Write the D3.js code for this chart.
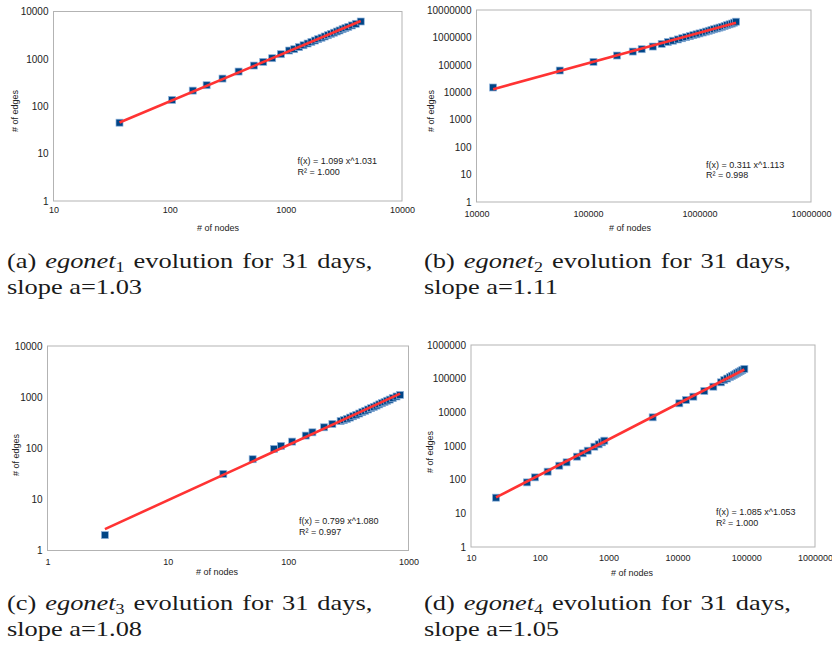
<!DOCTYPE html>
<html>
<head>
<meta charset="utf-8">
<title>egonet evolution</title>
<script src="https://cdn.jsdelivr.net/npm/d3@7"></script>
<style>
body { margin: 0; background: #fff; }
text { font-family: "Liberation Sans", Arial, sans-serif; fill: #222; }
text.cap { font-family: "Liberation Serif", "Times New Roman", serif; fill: #1a1a1a; }
</style>
</head>
<body>
<svg id="fig" width="832" height="648"></svg>
<script>
// (a) egonet 1
var nodes1 = [37, 105, 158, 208, 285, 392, 531, 639, 763, 906, 1069,
              1180, 1300, 1420, 1540, 1660, 1780, 1900, 2030, 2160, 2300,
              2450, 2600, 2750, 2900, 3080, 3260, 3450, 3700, 4000, 4414];
var edges1 = [45, 136, 214, 278, 384, 540, 723, 864, 1033, 1255, 1500,
              1600, 1770, 1940, 2110, 2280, 2440, 2610, 2790, 2970, 3160,
              3370, 3570, 3780, 3980, 4230, 4470, 4740, 5080, 5500, 6150];
var fit1 = [1.099, 1.031], r2_1 = "1.000";
var xTicks1 = [10, 100, 1000, 10000];
var yTicks1 = [1, 10, 100, 1000, 10000];

// (b) egonet 2
var nodes2 = [14100, 55800, 112000, 182000, 252000, 303000, 381000, 458000,
              520000, 580000, 640000, 700000, 760000, 820000, 880000, 940000,
              1000000, 1070000, 1140000, 1210000, 1280000, 1350000, 1430000,
              1510000, 1590000, 1680000, 1770000, 1860000, 1950000, 2040000, 2125000];
var edges2 = [14960, 62200, 128600, 218700, 305600, 372000, 465000, 582000,
              680000, 760000, 845000, 935000, 1025000, 1115000, 1210000, 1300000,
              1400000, 1510000, 1630000, 1750000, 1870000, 1990000, 2130000,
              2280000, 2430000, 2610000, 2800000, 3000000, 3200000, 3450000, 3750000];
var fit2 = [0.311, 1.113], r2_2 = "0.998";
var xTicks2 = [10000, 100000, 1000000, 10000000];
var yTicks2 = [1, 10, 100, 1000, 10000, 100000, 1000000, 10000000];

// (c) egonet 3
var nodes3 = [3, 28.9, 50.7, 76.3, 87.2, 108, 140, 159, 199, 233,
              273, 290, 308, 327, 347, 368, 390, 413, 437, 462, 488,
              515, 543, 572, 602, 633, 665, 698, 740, 795, 852];
var edges3 = [2, 31.5, 61, 97, 111, 135, 177, 205, 257, 299,
              340, 355, 375, 398, 423, 450, 478, 508, 540, 573, 608,
              644, 682, 722, 763, 805, 850, 895, 955, 1030, 1105];
var fit3 = [0.799, 1.080], r2_3 = "0.997";
var xTicks3 = [1, 10, 100, 1000];
var yTicks3 = [1, 10, 100, 1000, 10000];

// (d) egonet 4
var nodes4 = [23.1, 65, 85, 130, 192, 245, 347,
              420, 497, 621, 717, 802, 867,
              4370, 10670, 13340, 17060, 24620, 33300, 43000,
              48000, 53000, 58000, 62000, 66000, 70000, 74000, 78000, 83000, 88000, 94000];
var edges4 = [29.2, 83, 117, 173, 260, 327, 482,
              606, 727, 955, 1121, 1285, 1440,
              7100, 18500, 23200, 29200, 43000, 57800, 77800,
              91000, 101000, 112000, 121000, 130000, 139000, 148000, 157000, 168000, 180000, 195000];
var fit4 = [1.085, 1.053], r2_4 = "1.000";
var xTicks4 = [10, 100, 1000, 10000, 100000, 1000000];
var yTicks4 = [1, 10, 100, 1000, 10000, 100000, 1000000];

var captions = [
    ["(a) ", "egonet", "1", " evolution for 31 days,", "slope a=1.03"],
    ["(b) ", "egonet", "2", " evolution for 31 days,", "slope a=1.11"],
    ["(c) ", "egonet", "3", " evolution for 31 days,", "slope a=1.08"],
    ["(d) ", "egonet", "4", " evolution for 31 days,", "slope a=1.05"]
];

var svg = d3.select('#fig');
svg.append('rect').attr('width', 832).attr('height', 648).attr('fill', '#fff');

var fmt = d3.format('d');

function panel(o) {
    var g = svg.append('g');
    var x = d3.scaleLog().domain([o.xTicks[0], o.xTicks[o.xTicks.length - 1]]).range([o.left, o.right]);
    var y = d3.scaleLog().domain([o.yTicks[0], o.yTicks[o.yTicks.length - 1]]).range([o.bottom, o.top]);

    g.append('rect')
        .attr('x', o.left).attr('y', o.top)
        .attr('width', o.right - o.left).attr('height', o.bottom - o.top)
        .attr('fill', 'none').attr('stroke', '#b3b3b3').attr('stroke-width', 1);

    var ya = g.append('g')
        .attr('transform', 'translate(' + o.left + ',0)')
        .call(d3.axisLeft(y).tickValues(o.yTicks).tickSize(0).tickPadding(5).tickFormat(fmt));
    var xa = g.append('g')
        .attr('transform', 'translate(0,' + o.bottom + ')')
        .call(d3.axisBottom(x).tickValues(o.xTicks).tickSize(0).tickPadding(o.xPad).tickFormat(fmt));
    [ya, xa].forEach(function(a) {
        a.select('.domain').remove();
        a.attr('font-family', null).attr('font-size', null);
        a.selectAll('text').attr('fill', '#222');
    });
    ya.selectAll('text').attr('font-size', 10);
    xa.selectAll('text').attr('font-size', 9);

    g.append('text')
        .attr('x', o.xTitle[0]).attr('y', o.xTitle[1])
        .attr('text-anchor', 'middle').attr('font-size', 9).attr('fill', '#333')
        .text('# of nodes');
    g.append('text')
        .attr('transform', 'translate(' + o.yTitle[0] + ',' + o.yTitle[1] + ') rotate(-90)')
        .attr('text-anchor', 'middle').attr('font-size', 9).attr('fill', '#333')
        .text('# of edges');

    // data points
    g.append('g').selectAll('rect')
        .data(o.nodes.map(function(n, i) { return [n, o.edges[i]]; }))
        .enter().append('rect')
        .attr('x', function(d) { return x(d[0]) - 3.5; })
        .attr('y', function(d) { return y(d[1]) - 3.5; })
        .attr('width', 7).attr('height', 7)
        .attr('fill', '#004586')
        .attr('stroke', '#8fb3dc').attr('stroke-width', 0.7);

    // power trend line
    var xs = d3.extent(o.nodes);
    var line = d3.line()
        .x(function(d) { return x(d); })
        .y(function(d) { return y(o.fit[0] * Math.pow(d, o.fit[1])); });
    g.append('path')
        .datum(xs)
        .attr('d', line)
        .attr('fill', 'none').attr('stroke', '#ff3333').attr('stroke-width', 2.6);

    var eq = g.append('text').attr('font-size', 9).attr('fill', '#222');
    eq.append('tspan').attr('x', o.eq[0]).attr('y', o.eq[1])
        .text('f(x) = ' + o.fit[0].toFixed(3) + ' x^' + o.fit[1].toFixed(3));
    eq.append('tspan').attr('x', o.eq[0]).attr('dy', 10.5)
        .text('R\u00b2 = ' + o.r2);

    // caption (LaTeX-like, wide serif)
    var c = o.caption;
    var cg = svg.append('g')
        .attr('transform', 'translate(' + o.cap[0] + ',' + o.cap[1] + ') scale(1.2,1)');
    var t1 = cg.append('text').attr('class', 'cap').attr('x', 0).attr('y', 0)
        .attr('font-size', 22).attr('word-spacing', 2);
    t1.append('tspan').text(c[0]);
    t1.append('tspan').attr('font-style', 'italic').text(c[1]);
    t1.append('tspan').attr('font-size', 15).attr('dy', 4).text(c[2]);
    t1.append('tspan').attr('dy', -4).text(c[3]);
    cg.append('text').attr('class', 'cap')
        .attr('x', 0).attr('y', 26).attr('font-size', 22)
        .text(c[4]);
}

panel({ nodes: nodes1, edges: edges1, fit: fit1, r2: r2_1, xTicks: xTicks1, yTicks: yTicks1,
        left: 53.5, right: 402, top: 11.5, bottom: 201, xPad: 6,
        xTitle: [218, 231], yTitle: [18, 111], eq: [297.5, 164], cap: [7, 268], caption: captions[0] });
panel({ nodes: nodes2, edges: edges2, fit: fit2, r2: r2_2, xTicks: xTicks2, yTicks: yTicks2,
        left: 476.5, right: 811, top: 10, bottom: 202, xPad: 9,
        xTitle: [630, 231], yTitle: [434, 111], eq: [706, 167.5], cap: [424, 268], caption: captions[1] });
panel({ nodes: nodes3, edges: edges3, fit: fit3, r2: r2_3, xTicks: xTicks3, yTicks: yTicks3,
        left: 47.5, right: 408.5, top: 346, bottom: 550.5, xPad: 8,
        xTitle: [217, 575], yTitle: [19, 455], eq: [299, 524], cap: [7, 610], caption: captions[2] });
panel({ nodes: nodes4, edges: edges4, fit: fit4, r2: r2_4, xTicks: xTicks4, yTicks: yTicks4,
        left: 471, right: 815, top: 345, bottom: 547, xPad: 8,
        xTitle: [632, 576], yTitle: [433, 452], eq: [716, 515], cap: [424, 610], caption: captions[3] });
</script>
</body>
</html>
